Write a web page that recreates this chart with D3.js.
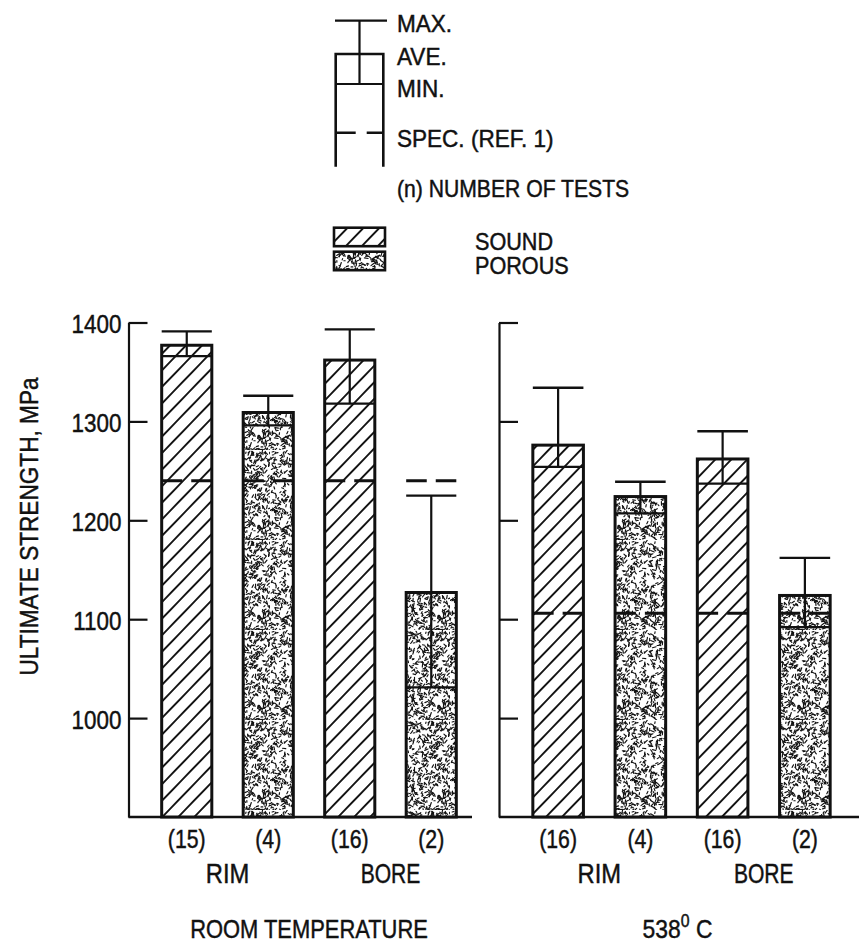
<!DOCTYPE html>
<html>
<head>
<meta charset="utf-8">
<script src="https://cdn.jsdelivr.net/npm/d3@7"></script>
<style>
  body { margin: 0; background: #fff; }
  text { font-family: "Liberation Sans", Arial, sans-serif; fill: #111; stroke: #111; stroke-width: 0.45; }
</style>
</head>
<body>
<div id="chart"></div>
<script>
var width = 859
var height = 945

// values (MPa)
var locations = ["RIM", "RIM", "BORE", "BORE"];
var materials = ["sound", "porous", "sound", "porous"];
var testsRT = [15, 4, 16, 2];
var testsHot = [16, 4, 16, 2];
var aveRT = [1377, 1309, 1362, 1127];
var minRT = [1366, 1296, 1318, 1031];
var maxRT = [1391, 1326, 1393, 1225];
var aveHot = [1276, 1224, 1262, 1124];
var minHot = [1254, 1207, 1237, 1092];
var maxHot = [1334, 1239, 1290, 1162];
var specRT = 1240;
var specHot = 1106;
var yTicks = [1000, 1100, 1200, 1300, 1400];
var panelTitles = ["ROOM TEMPERATURE", "538"];
var legendLabels = ["MAX.", "AVE.", "MIN.", "SPEC. (REF. 1)", "(n) NUMBER OF TESTS"];
var fillLabels = ["SOUND", "POROUS"];

var ink = "#111";

var svg = d3.select("#chart")
    .append("svg")
    .attr("width", width)
    .attr("height", height);

svg.append("rect")
    .attr("width", width)
    .attr("height", height)
    .attr("fill", "#fff");

var defs = svg.append("defs");

// diagonal hatch for sound material
var hs = 11.5;
var hatch = defs.append("pattern")
    .attr("id", "hatch")
    .attr("patternUnits", "userSpaceOnUse")
    .attr("width", hs)
    .attr("height", hs)
    .attr("patternTransform", "rotate(44)");
hatch.append("rect").attr("width", hs).attr("height", hs).attr("fill", "#fff");
hatch.append("line")
    .attr("x1", hs / 2).attr("y1", 0)
    .attr("x2", hs / 2).attr("y2", hs)
    .attr("stroke", ink)
    .attr("stroke-width", 1.9);

// speckle texture for porous material (seeded so it is the same every run)
var rnd = d3.randomLcg(0.4217);
var tile = 90;
var speck = defs.append("pattern")
    .attr("id", "speck")
    .attr("patternUnits", "userSpaceOnUse")
    .attr("width", tile)
    .attr("height", tile);
speck.append("rect").attr("width", tile).attr("height", tile).attr("fill", "#fff");
var marks = [];
for (var i = 0; i < 900; i++) {
    var px = rnd() * tile, py = rnd() * tile;
    var a = rnd() * Math.PI, l = 1.2 + rnd() * 2.6;
    marks.push([px, py, px + Math.cos(a) * l, py + Math.sin(a) * l]);
}
speck.selectAll("line")
    .data(marks)
    .enter()
    .append("line")
    .attr("x1", function(d) { return d[0]; })
    .attr("y1", function(d) { return d[1]; })
    .attr("x2", function(d) { return d[2]; })
    .attr("y2", function(d) { return d[3]; })
    .attr("stroke", ink)
    .attr("stroke-width", 1.15)
    .attr("stroke-linecap", "round");

function fillFor(m) {
    return m === "sound" ? "url(#hatch)" : "url(#speck)";
}

// condensed-looking text
function label(sel, txt, x, y, size, sx, anchor) {
    return sel.append("text")
        .attr("transform", "translate(" + x + "," + y + ") scale(" + sx + ",1)")
        .attr("font-size", size)
        .attr("text-anchor", anchor || "middle")
        .text(txt);
}

var y = d3.scaleLinear()
    .domain([900, 1400])
    .range([817, 322.5]);

var panels = [
    { axisX: 128.5, range: [146, 472], baseEnd: 472, ave: aveRT, min: minRT, max: maxRT, spec: specRT, n: testsRT, labels: true },
    { axisX: 499, range: [517, 846], baseEnd: 859, ave: aveHot, min: minHot, max: maxHot, spec: specHot, n: testsHot, labels: false }
];

panels.forEach(function(p, pi) {
    var x = d3.scaleBand()
        .domain(d3.range(locations.length))
        .range(p.range)
        .paddingInner(0.385)
        .paddingOuter(0.1925);
    var bw = x.bandwidth();

    var axis = d3.axisLeft(y)
        .tickValues(yTicks)
        .tickFormat(d3.format("d"))
        .tickSize(-19)
        .tickSizeOuter(0);

    var ga = svg.append("g")
        .attr("transform", "translate(" + p.axisX + ",0)")
        .call(axis);
    ga.select(".domain").attr("stroke", ink).attr("stroke-width", 2.2);
    ga.selectAll(".tick line").attr("stroke", ink).attr("stroke-width", 2.2);
    ga.selectAll(".tick text")
        .attr("x", null)
        .attr("dy", null)
        .attr("fill", ink)
        .attr("font-size", 25.5)
        .attr("font-family", "Liberation Sans, Arial, sans-serif")
        .attr("transform", "translate(-7,10) scale(0.88,1)")
        .style("display", p.labels ? null : "none");

    // baseline
    svg.append("line")
        .attr("x1", p.axisX).attr("x2", p.baseEnd)
        .attr("y1", y(900)).attr("y2", y(900))
        .attr("stroke", ink)
        .attr("stroke-width", 2.4);

    var g = svg.append("g");
    locations.forEach(function(loc, i) {
        var x0 = x(i), xc = x0 + bw / 2;
        g.append("rect")
            .attr("x", x0)
            .attr("y", y(p.ave[i]))
            .attr("width", bw)
            .attr("height", y(900) - y(p.ave[i]))
            .attr("fill", fillFor(materials[i]))
            .attr("stroke", ink)
            .attr("stroke-width", 3);
        // minimum line
        g.append("line")
            .attr("x1", x0).attr("x2", x0 + bw)
            .attr("y1", y(p.min[i])).attr("y2", y(p.min[i]))
            .attr("stroke", ink).attr("stroke-width", 2.2);
        // whisker max -> min
        g.append("line")
            .attr("x1", xc).attr("x2", xc)
            .attr("y1", y(p.max[i])).attr("y2", y(p.min[i]))
            .attr("stroke", ink).attr("stroke-width", 2.2);
        // max cap
        g.append("line")
            .attr("x1", x0).attr("x2", x0 + bw)
            .attr("y1", y(p.max[i])).attr("y2", y(p.max[i]))
            .attr("stroke", ink).attr("stroke-width", 2.4);
        // spec dashed line
        var gap = 9;
        g.append("line")
            .attr("x1", x0).attr("x2", x0 + bw)
            .attr("y1", y(p.spec)).attr("y2", y(p.spec))
            .attr("stroke", ink).attr("stroke-width", 2.8)
            .attr("stroke-dasharray", ((bw - gap) / 2) + " " + gap);

        label(svg, "(" + p.n[i] + ")", xc, 848, 25, 0.85);
    });

    // RIM / BORE group labels
    label(svg, "RIM", (x(0) + x(1) + bw) / 2, 883, 27, 0.88);
    label(svg, "BORE", (x(2) + x(3) + bw) / 2, 883, 27, 0.78);

    var mid = (x(0) + x(3) + bw) / 2;
    if (pi === 0) {
        label(svg, panelTitles[0], mid, 938, 26, 0.843);
    } else {
        var t = label(svg, panelTitles[1], mid - 4, 938, 26, 0.88);
        t.append("tspan").attr("font-size", 18).attr("dy", -11).text("0");
        t.append("tspan").attr("dy", 11).text(" C");
    }
});

// y axis title
svg.append("text")
    .attr("transform", "translate(38,526.5) rotate(-90) scale(0.87,1)")
    .attr("font-size", 26)
    .attr("text-anchor", "middle")
    .text("ULTIMATE STRENGTH, MPa");

// legend key
var lg = svg.append("g");
var kL = 335.7, kR = 383.3, kC = 359.5;
var kMax = 20.7, kAve = 54, kMin = 84, kSpec = 132.7, kEnd = 166.7;
lg.append("line").attr("x1", 335).attr("x2", 387).attr("y1", kMax).attr("y2", kMax)
    .attr("stroke", ink).attr("stroke-width", 2.2);
lg.append("line").attr("x1", kC).attr("x2", kC).attr("y1", kMax).attr("y2", kMin)
    .attr("stroke", ink).attr("stroke-width", 2.2);
lg.append("path")
    .attr("d", "M" + kL + "," + kEnd + "V" + kAve + "H" + kR + "V" + kEnd)
    .attr("fill", "none").attr("stroke", ink).attr("stroke-width", 2.6);
lg.append("line").attr("x1", kL).attr("x2", kR).attr("y1", kMin).attr("y2", kMin)
    .attr("stroke", ink).attr("stroke-width", 2.2);
lg.append("line").attr("x1", kL).attr("x2", kR).attr("y1", kSpec).attr("y2", kSpec)
    .attr("stroke", ink).attr("stroke-width", 2.6)
    .attr("stroke-dasharray", "20 11");

var legendY = [32, 65, 97, 147, 197];
legendLabels.forEach(function(s, i) {
    label(lg, s, 397, legendY[i], 23, i === 4 ? 0.92 : 0.98, "start");
});

var swatchY = [227.7, 251.7];
fillLabels.forEach(function(s, i) {
    lg.append("rect")
        .attr("x", 334).attr("y", swatchY[i])
        .attr("width", 51).attr("height", 18.5)
        .attr("fill", fillFor(i === 0 ? "sound" : "porous"))
        .attr("stroke", ink).attr("stroke-width", 2.6);
    label(lg, s, 475, swatchY[i] + 22.5 - i * 0.5, 23, 0.94, "start");
});
</script>
</body>
</html>
